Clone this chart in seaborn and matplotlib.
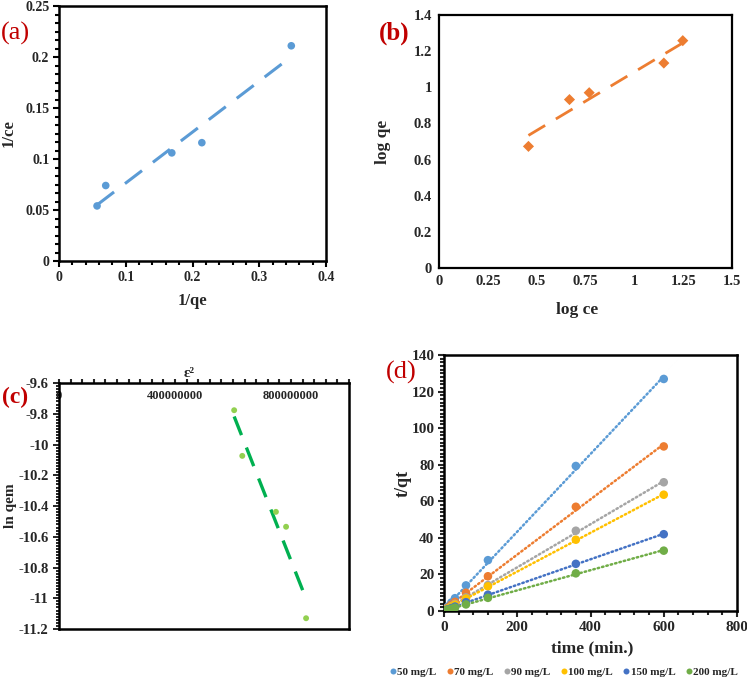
import numpy as np
import pandas as pd
import matplotlib
matplotlib.use("Agg")
import matplotlib.pyplot as plt
from matplotlib.ticker import MultipleLocator
import seaborn as sns

# ---------------- data ----------------
# (a) Langmuir
a_inv_qe = [0.057, 0.070, 0.169, 0.214, 0.348]
a_inv_ce = [0.054, 0.074, 0.106, 0.116, 0.211]
# (b) Freundlich
b_log_ce = [0.458, 0.668, 0.769, 1.151, 1.248]
b_log_qe = [0.673, 0.932, 0.970, 1.134, 1.258]
# (c) D-R
c_eps2 = [604e6, 632e6, 748e6, 783e6, 852e6]
c_ln_qem = [-9.777, -10.074, -10.438, -10.535, -11.130]
# (d) pseudo-second-order
d_time = [5, 10, 20, 30, 60, 120, 360, 600]
d_labels = ["50 mg/L", "70 mg/L", "90 mg/L", "100 mg/L", "150 mg/L", "200 mg/L"]
d_50 = [1.3, 2.4, 4.6, 7.0, 14.0, 27.8, 79.3, 126.9]
d_70 = [1.0, 1.8, 3.4, 5.0, 10.0, 19.0, 57.0, 90.0]
d_90 = [0.8, 1.4, 2.6, 3.9, 7.4, 14.2, 43.9, 70.4]
d_100 = [0.7, 1.3, 2.4, 3.5, 6.8, 13.5, 39.0, 63.6]
d_150 = [0.5, 0.9, 1.6, 2.4, 4.8, 8.9, 25.8, 42.0]
d_200 = [0.4, 0.7, 1.2, 1.8, 3.6, 7.2, 20.6, 33.0]
d_colors = ["#5B9BD5", "#ED7D31", "#A5A5A5", "#FFC000", "#4472C4", "#70AD47"]

sns.set_style("white")
plt.rcParams["font.family"] = ["Liberation Serif", "DejaVu Serif"]
plt.rcParams["font.weight"] = "bold"
plt.rcParams["axes.labelweight"] = "bold"

W, H = 747, 682
fig = plt.figure(figsize=(W / 100, H / 100), dpi=100)


def add_ax(l, r, t, b):
    return fig.add_axes([l / W, 1 - b / H, (r - l) / W, (b - t) / H])


def style_spines(ax, lw=1.8):
    for s in ax.spines.values():
        s.set_visible(True)
        s.set_color("black")
        s.set_linewidth(lw)


red = "#C00000"

# ---------------- (a) ----------------
ax = add_ax(59, 326, 6, 261)
sns.scatterplot(x=a_inv_qe, y=a_inv_ce, ax=ax, color="#5B9BD5", s=30,
                edgecolor="none", zorder=3)
sns.regplot(x=a_inv_qe, y=a_inv_ce, ax=ax, ci=None, scatter=False,
            truncate=True, color="#5B9BD5",
            line_kws=dict(lw=2.2, dashes=(7, 4.5)))
ax.set_xlim(0, 0.4)
ax.set_ylim(0, 0.25)
ax.set_xticks([0, 0.1, 0.2, 0.3, 0.4])
ax.set_yticks([0, 0.05, 0.1, 0.15, 0.2, 0.25])
ax.set_xticklabels(["0", "0.1", "0.2", "0.3", "0.4"])
ax.set_yticklabels(["0", "0.05", "0.1", "0.15", "0.2", "0.25"])
ax.xaxis.set_minor_locator(MultipleLocator(0.02))
ax.yaxis.set_minor_locator(MultipleLocator(0.05 / 6))
ax.tick_params(axis="both", which="both", direction="out", labelsize=10,
               width=1.5, color="black", bottom=True, left=True)
ax.tick_params(which="major", length=4, pad=3)
ax.tick_params(which="minor", length=3)
style_spines(ax)
ax.set_xlabel("1/qe", fontsize=12)
ax.set_ylabel("1/ce", fontsize=12)
ax.xaxis.set_label_coords(0.5, -0.125)
ax.yaxis.set_label_coords(-0.16, 0.5)
fig.text(1 / W, 1 - 33 / H, "(a)", color=red, fontsize=19, fontweight="normal",
         ha="left", va="center")

# ---------------- (b) ----------------
ax = add_ax(439, 732, 15, 268)
sns.scatterplot(x=b_log_ce, y=b_log_qe, ax=ax, color="#ED7D31", marker="D",
                s=32, edgecolor="none", zorder=3)
sns.regplot(x=b_log_ce, y=b_log_qe, ax=ax, ci=None, scatter=False,
            truncate=True, color="#ED7D31",
            line_kws=dict(lw=2.0, dashes=(7, 4.5)))
ax.set_xlim(0, 1.5)
ax.set_ylim(0, 1.4)
ax.set_xticks([0, 0.25, 0.5, 0.75, 1, 1.25, 1.5])
ax.set_xticklabels(["0", "0.25", "0.5", "0.75", "1", "1.25", "1.5"])
ax.set_yticks([0, 0.2, 0.4, 0.6, 0.8, 1, 1.2, 1.4])
ax.set_yticklabels(["0", "0.2", "0.4", "0.6", "0.8", "1", "1.2", "1.4"])
ax.tick_params(axis="both", length=0, labelsize=10.5, pad=5)
style_spines(ax, 1.6)
ax.set_xlabel("log ce", fontsize=12.5)
ax.set_ylabel("log qe", fontsize=12.5)
ax.xaxis.set_label_coords(0.47, -0.136)
ax.yaxis.set_label_coords(-0.164, 0.5)
fig.text(379 / W, 1 - 33 / H, "(b)", color=red, fontsize=18, fontweight="bold",
         ha="left", va="center")

# ---------------- (c) ----------------
ax = add_ax(59, 349, 383, 629)
sns.scatterplot(x=c_eps2, y=c_ln_qem, ax=ax, color="#92D050", s=18,
                edgecolor="none", zorder=3)
sns.regplot(x=c_eps2, y=c_ln_qem, ax=ax, ci=None, scatter=False,
            truncate=True, color="#00B050",
            line_kws=dict(lw=2.4, dashes=(6, 4)))
ax.set_xlim(0, 1.0e9)
ax.set_ylim(-11.2, -9.6)
ax.set_xticks([0, 4e8, 8e8])
ax.set_xticklabels(["0", "400000000", "800000000"])
ax.xaxis.set_minor_locator(MultipleLocator(4e7))
ax.set_yticks([-11.2, -11, -10.8, -10.6, -10.4, -10.2, -10, -9.8, -9.6])
ax.set_yticklabels(["-11.2", "-11", "-10.8", "-10.6", "-10.4", "-10.2", "-10",
                    "-9.8", "-9.6"])
ax.yaxis.set_minor_locator(MultipleLocator(0.02))
ax.xaxis.tick_top()
ax.tick_params(axis="x", which="both", top=True, bottom=False, labeltop=True,
               labelbottom=False, direction="out", width=1.5)
ax.tick_params(axis="x", which="major", length=3, pad=-17, labelsize=9)
ax.tick_params(axis="x", which="minor", length=3)
ax.tick_params(axis="y", which="both", left=True, direction="out", width=1.4,
               labelsize=10.5)
ax.tick_params(axis="y", which="major", length=4)
ax.tick_params(axis="y", which="minor", length=2.5)
style_spines(ax)
ax.xaxis.set_label_position("top")
ax.set_xlabel("ε²", fontsize=11)
ax.set_ylabel("ln qem", fontsize=11)
ax.xaxis.set_label_coords(0.45, 1.023)
ax.yaxis.set_label_coords(-0.145, 0.5)
fig.text(2 / W, 1 - 397 / H, "(c)", color=red, fontsize=17, fontweight="bold",
         ha="left", va="center")

# ---------------- (d) ----------------
ax = add_ax(444, 737, 355, 611)
series = [d_50, d_70, d_90, d_100, d_150, d_200]
df = pd.DataFrame({
    "time": np.tile(d_time, len(series)),
    "tqt": np.concatenate(series),
    "conc": np.repeat(d_labels, len(d_time)),
})
for lab, col in zip(d_labels, d_colors):
    sub = df[df["conc"] == lab]
    sns.regplot(data=sub, x="time", y="tqt", ax=ax, ci=None, scatter=False,
                truncate=True, color=col,
                line_kws=dict(lw=1.8, linestyle=(0, (0.6, 1.2)),
                              dash_capstyle="round"))
sns.scatterplot(data=df, x="time", y="tqt", hue="conc", hue_order=d_labels,
                palette=d_colors, ax=ax, s=38, edgecolor="none", zorder=3,
                legend=True)
ax.set_xlim(0, 800)
ax.set_ylim(0, 140)
ax.set_xticks([0, 200, 400, 600, 800])
ax.set_xticklabels(["0", "200", "400", "600", "800"])
ax.set_yticks(list(range(0, 141, 20)))
ax.set_yticklabels([str(v) for v in range(0, 141, 20)])
ax.xaxis.set_minor_locator(MultipleLocator(40))
ax.yaxis.set_minor_locator(MultipleLocator(2))
ax.tick_params(axis="both", which="both", direction="out", width=1.5,
               bottom=True, left=True, labelsize=11)
ax.tick_params(which="major", length=4, pad=3)
ax.tick_params(which="minor", length=3)
style_spines(ax)
ax.set_xlabel("time (min.)", fontsize=12.5)
ax.set_ylabel("t/qt", fontsize=13)
ax.xaxis.set_label_coords(0.505, -0.113)
ax.yaxis.set_label_coords(-0.110, 0.5)
handles, labels = ax.get_legend_handles_labels()
ax.get_legend().remove()
fig.legend(handles, labels, loc="center", ncol=6,
           bbox_to_anchor=(562 / W, 1 - 672 / H), frameon=False,
           handletextpad=-0.2, columnspacing=0.6,
           markerscale=0.7, handlelength=1.2,
           prop=dict(family="Liberation Serif", weight="bold", size=8))
fig.text(386 / W, 1 - 372 / H, "(d)", color=red, fontsize=19,
         fontweight="normal", ha="left", va="center")

fig.savefig("out.png", dpi=100)
